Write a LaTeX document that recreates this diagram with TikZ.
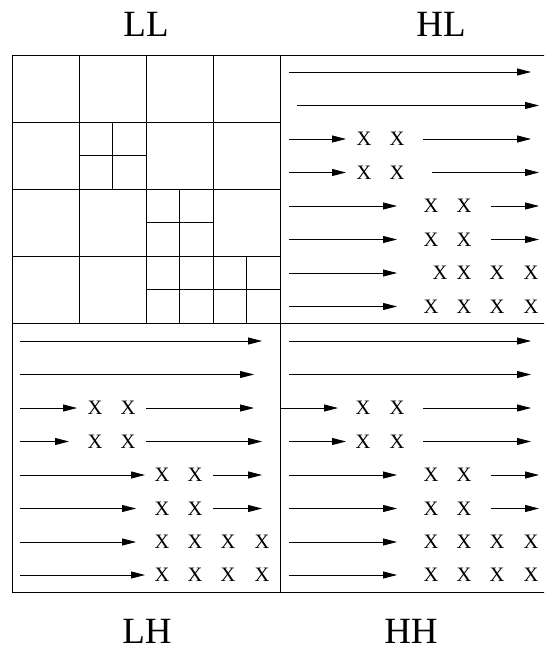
\documentclass[tikz,border=0pt]{standalone}
\usepackage{fontspec}
\setmainfont{Liberation Serif}
\usetikzlibrary{arrows.meta}

\tikzset{
  band/.style={line width=0.8pt, -{Triangle[length=14pt,width=7pt]}},
  xsym/.style={inner sep=0pt, font=\fontsize{20.5}{22}\selectfont},
  quadlabel/.style={inner sep=0pt, font=\fontsize{37}{40}\selectfont}
}

\begin{document}
\begin{tikzpicture}[x=1pt, y=-1pt]
  \useasboundingbox (0,0) rectangle (544,653);
  \clip (0,0) rectangle (544,653);

  % quadrant borders
  \draw[line width=0.8pt] (12,55) rectangle (548,592.5);
  \draw[line width=0.8pt] (280,55) -- (280,592.5);
  \draw[line width=0.8pt] (12,323.5) -- (548,323.5);

  % LL grid
  \draw[line width=0.8pt] (79,55) -- (79,323.5) (146,55) -- (146,323.5) (213,55) -- (213,323.5);
  \draw[line width=0.8pt] (12,122) -- (280,122) (12,189) -- (280,189) (12,256) -- (280,256);
  \draw[line width=0.8pt] (112.5,122) -- (112.5,189) (79,155.5) -- (146,155.5);
  \draw[line width=0.8pt] (179.5,189) -- (179.5,256) (146,222.5) -- (213,222.5);
  \draw[line width=0.8pt] (179.5,256) -- (179.5,323.5) (246.5,256) -- (246.5,323.5)
                          (146,289.75) -- (280,289.75);

  % HL rows
  \foreach \y/\a/\b in {72/289/531, 105.5/297/539, 139/289/346, 139/423/531,
      172.5/289/346, 172.5/432/539, 206/289/397, 206/491/539,
      239.5/289/397, 239.5/491/539, 273/289/397, 306.5/289/397}
    \draw[band] (\a,\y) -- (\b,\y);
  \foreach \x/\y [count=\i] in {364/139, 397/139, 364/172.5, 397/172.5,
      431/206, 464/206, 431/239.5, 464/239.5,
      440/273, 464/273, 497/273, 531/273, 431/306.5, 464/306.5, 497/306.5, 531/306.5}
    \node[xsym] (hl\i) at (\x,\y) {X};

  % LH rows
  \foreach \y/\a/\b in {341/20/262, 374.5/20/254, 408/20/77, 408/146/254,
      441.5/20/69, 441.5/146/262, 475/20/145, 475/213/262,
      508.5/20/136, 508.5/213/262, 542/20/136, 575/20/145}
    \draw[band] (\a,\y) -- (\b,\y);
  \foreach \x/\y [count=\i] in {95/408, 128/408, 95/441.5, 128/441.5,
      162/475, 195/475, 162/508.5, 195/508.5,
      162/542, 195/542, 228/542, 262/542, 162/575, 195/575, 228/575, 262/575}
    \node[xsym] (lh\i) at (\x,\y) {X};

  % HH rows
  \foreach \y/\a/\b in {341/289/531, 374.5/289/531, 408/280/338, 408/423/531,
      441.5/289/346, 441.5/423/531, 475/289/397, 475/491/539,
      508.5/289/397, 508.5/491/539, 542/289/397, 575/289/397}
    \draw[band] (\a,\y) -- (\b,\y);
  \foreach \x/\y [count=\i] in {363/408, 397/408, 363/441.5, 397/441.5,
      431/475, 464/475, 431/508.5, 464/508.5,
      431/542, 464/542, 497/542, 531/542, 431/575, 464/575, 497/575, 531/575}
    \node[xsym] (hh\i) at (\x,\y) {X};

  \node[quadlabel] (ll) at (146,24.5) {LL};
  \node[quadlabel] (hl) at (441,24) {HL};
  \node[quadlabel] (lh) at (147,631) {LH};
  \node[quadlabel] (hh) at (411,631) {HH};
\end{tikzpicture}
\end{document}
